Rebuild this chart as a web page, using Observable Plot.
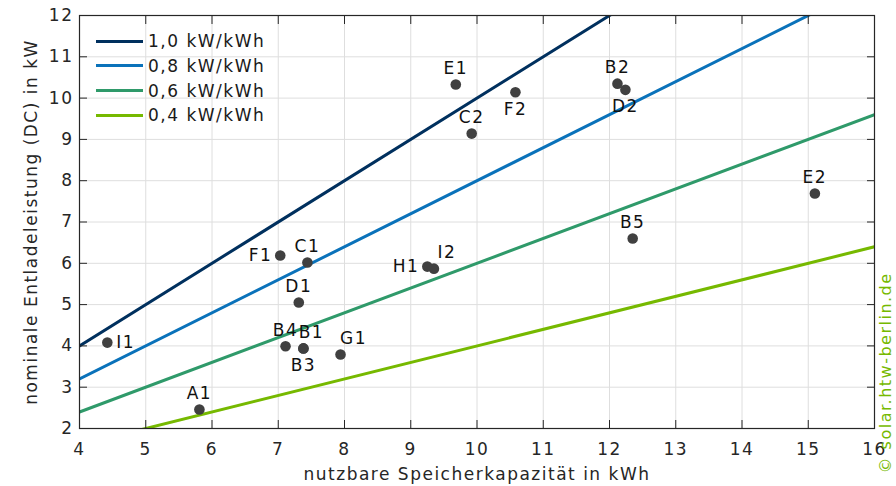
<!DOCTYPE html>
<html><head><meta charset="utf-8">
<script src="https://cdn.jsdelivr.net/npm/d3@7"></script>
<script src="https://cdn.jsdelivr.net/npm/@observablehq/plot@0.6"></script>
<style>
body{margin:0;background:#fff;font-family:"DejaVu Sans",Verdana,sans-serif;}
#wrap{position:relative;width:896px;height:486px;}
.leg{position:absolute;left:96px;top:29px;font-size:17px;letter-spacing:1.5px;color:#1a1a1a;}
.leg div{height:24.67px;display:flex;align-items:center;}
.leg span.sw{display:inline-block;width:47px;height:3px;margin-right:5px;}
</style></head>
<body><div id="wrap"></div>
<script>
const names = ["I1","A1","F1","C1","D1","B4","B1","B3","G1","E1","F2","C2","B2","D2","B5","H1","I2","E2"];
const capacity = [4.42,5.81,7.03,7.44,7.31,7.11,7.38,7.38,7.94,9.68,10.58,9.92,12.12,12.24,12.35,9.25,9.35,15.10];
const power = [4.08,2.46,6.19,6.02,5.05,3.99,3.94,3.94,3.79,10.33,10.14,9.14,10.35,10.20,6.60,5.92,5.87,7.69];
const ratios = [1.0,0.8,0.6,0.4];
const ratioLabels = ["1,0 kW/kWh","0,8 kW/kWh","0,6 kW/kWh","0,4 kW/kWh"];
const xTicks = [4,5,6,7,8,9,10,11,12,13,14,15,16];
const yTicks = [2,3,4,5,6,7,8,9,10,11,12];
const xTitle = "nutzbare Speicherkapazität in kWh";
const yTitle = "nominale Entladeleistung (DC) in kW";
const credit = "© solar.htw-berlin.de";

const colors = ["#00305e","#0a72ba","#2f9a6a","#76b900"];
const labelPos = {I1:"right",F1:"left",H1:"left",F2:"bottom",D2:"bottom",B3:"bottom",G1:"topright",I2:"topright",B1:"topright2"};

const pts = names.map((n,i)=>({name:n,x:capacity[i],y:power[i],pos:labelPos[n]||"top"}));
const lineData = ratios.flatMap((r,i)=>[xTicks[0],xTicks[xTicks.length-1]].map(x=>({r:ratioLabels[i],x,y:r*x})));

const posOpts = {
  top:{dy:-16,textAnchor:"middle"},
  bottom:{dy:17,textAnchor:"middle"},
  left:{dx:-8,textAnchor:"end"},
  right:{dx:9,textAnchor:"start"},
  topright:{dx:13,dy:-16,textAnchor:"middle"},
  topright2:{dx:8,dy:-16,textAnchor:"middle"}
};
const textMarks = Object.entries(posOpts).map(([k,o])=>Plot.text(pts.filter(d=>d.pos===k),{x:"x",y:"y",text:"name",fontSize:17,fill:"#111",lineAnchor:"middle",...o}));

const chart = Plot.plot({
  width:896,height:486,
  marginLeft:79,marginRight:22,marginTop:15,marginBottom:58,
  style:{fontFamily:"'DejaVu Sans',Verdana,sans-serif",fontSize:"17px",letterSpacing:"1.5px",color:"#262626",background:"#fff",overflow:"visible"},
  x:{domain:[4,16]},
  y:{domain:[2,12]},
  color:{domain:ratioLabels,range:colors},
  marks:[
    Plot.gridX(xTicks,{stroke:"#dedede",strokeOpacity:1,strokeWidth:1}),
    Plot.gridY(yTicks,{stroke:"#dedede",strokeOpacity:1,strokeWidth:1}),
    Plot.line(lineData,{x:"x",y:"y",z:"r",stroke:"r",strokeWidth:3,clip:"frame"}),
    Plot.axisX(xTicks,{anchor:"bottom",tickSize:0,tickPadding:14,fontSize:17,label:null}),
    Plot.axisY(yTicks,{anchor:"left",tickSize:0,tickPadding:6,fontSize:17,label:null}),
    Plot.axisX(xTicks,{anchor:"bottom",tickSize:-8,text:null,label:null,stroke:"#262626"}),
    Plot.axisX(xTicks,{anchor:"top",tickSize:-8,text:null,label:null,stroke:"#262626"}),
    Plot.axisY(yTicks,{anchor:"left",tickSize:-8,text:null,label:null,stroke:"#262626"}),
    Plot.axisY(yTicks,{anchor:"right",tickSize:-8,text:null,label:null,stroke:"#262626"}),
    Plot.frame({stroke:"#262626",strokeWidth:1.2}),
    Plot.dot(pts,{x:"x",y:"y",r:5.3,fill:"#404040"}),
    ...textMarks,
    Plot.text([xTitle],{frameAnchor:"bottom",lineAnchor:"middle",textAnchor:"middle",dy:46,fontSize:17,fill:"#262626"}),
    Plot.text([yTitle],{frameAnchor:"left",lineAnchor:"middle",textAnchor:"middle",rotate:-90,dx:-48,fontSize:17,fill:"#262626"}),
    Plot.text([credit],{frameAnchor:"bottom-right",lineAnchor:"middle",textAnchor:"start",rotate:-90,dx:11,dy:45,fontSize:16,fill:"#76b900",style:{letterSpacing:"1.8px"}})
  ]
});
const wrap=document.getElementById("wrap");
wrap.appendChild(chart);
const leg=document.createElement("div");leg.className="leg";
ratioLabels.forEach((l,i)=>{const d=document.createElement("div");d.innerHTML=`<span class="sw" style="background:${colors[i]}"></span>${l}`;leg.appendChild(d);});
wrap.appendChild(leg);
</script></body></html>
